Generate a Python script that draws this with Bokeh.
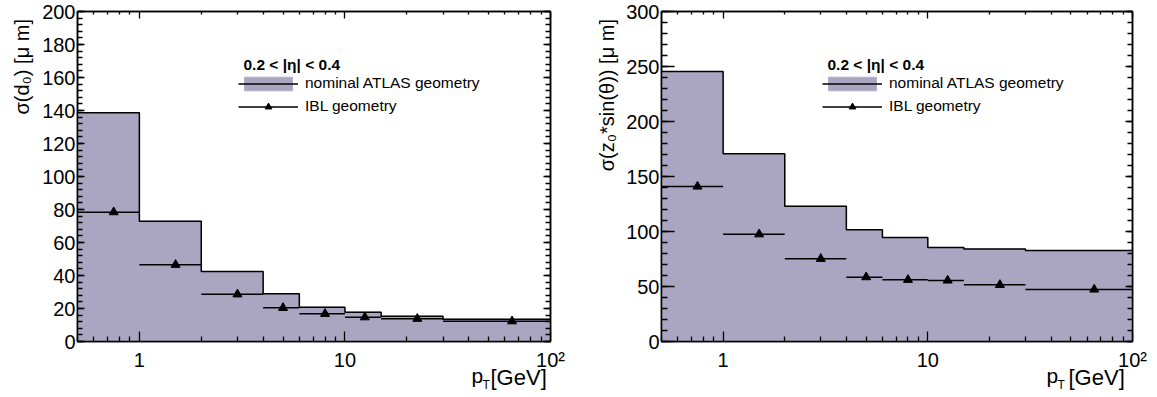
import math
from bokeh.plotting import figure
from bokeh.models import (LogAxis, LinearAxis, FixedTicker, SingleIntervalTicker,
                          Label, Legend, LegendItem, Title)
from bokeh.layouts import row
from bokeh.embed import file_html
from bokeh.resources import INLINE

# ---- data -------------------------------------------------------------
pt_edges = [0.5, 1, 2, 4, 6, 10, 15, 30, 100]
pt_centers = [0.75, 1.5, 3, 5, 8, 12.5, 22.5, 65]
d0_nominal = [138.6, 72.9, 42.4, 28.9, 20.8, 17.8, 15.3, 13.5]
d0_ibl = [78.4, 46.5, 28.6, 20.4, 16.8, 14.7, 13.8, 12.3]
z0_nominal = [245.5, 170.6, 123.0, 101.5, 94.5, 85.5, 84.0, 82.7]
z0_ibl = [140.9, 97.5, 75.2, 58.5, 56.1, 55.5, 51.5, 47.3]
x_major_ticks = [1, 10, 100]
x_minor_ticks = [0.5, 0.6, 0.7, 0.8, 0.9, 2, 3, 4, 5, 6, 7, 8, 9,
                 20, 30, 40, 50, 60, 70, 80, 90]
x_tick_labels = {1: "1", 10: "10", 100: "10²"}
legend_title = "0.2 < |η| < 0.4"
label_nominal = "nominal ATLAS geometry"
label_ibl = "IBL geometry"

FILL = "#aaa6c2"
FONT = "Liberation Sans"


def style_axis(ax, major, minor, show_labels):
    ax.axis_line_color = "black"
    ax.axis_line_width = 1.5
    ax.major_tick_line_color = "black"
    ax.minor_tick_line_color = "black"
    ax.major_tick_line_width = 1.3
    ax.minor_tick_line_width = 1.3
    ax.major_tick_in = major
    ax.major_tick_out = 0
    ax.minor_tick_in = minor
    ax.minor_tick_out = 0
    ax.major_label_text_font = FONT
    ax.major_label_text_color = "black"
    if show_labels:
        ax.major_label_text_font_size = "20px"
    else:
        ax.major_label_text_font_size = "1px"
        ax.major_label_text_alpha = 0
        ax.major_label_standoff = 0


def make_panel(nominal, ibl, ymax, yint, ylabel, bl, br, fw,
               ymaj, ymin, p_left, gev_left, ytitle_standoff):
    p = figure(x_axis_type="log", x_range=(0.5, 100), y_range=(0, ymax),
               frame_width=fw, frame_height=330,
               min_border_left=bl, min_border_right=br,
               min_border_top=11, min_border_bottom=56,
               output_backend="svg", toolbar_location=None,
               background_fill_color="white", border_fill_color="white")
    p.xgrid.visible = False
    p.ygrid.visible = False
    p.outline_line_color = "black"
    p.outline_line_width = 1.5

    xt = FixedTicker(ticks=x_major_ticks, minor_ticks=x_minor_ticks)
    yt = SingleIntervalTicker(interval=yint, num_minor_ticks=5)

    bx = p.xaxis[0]
    bx.ticker = xt
    bx.major_label_overrides = x_tick_labels
    bx.major_label_standoff = 7
    style_axis(bx, 10, 5, True)

    ly = p.yaxis[0]
    ly.ticker = yt
    ly.major_label_standoff = 2
    style_axis(ly, ymaj, ymin, True)

    tx = LogAxis(ticker=xt)
    style_axis(tx, 7, 3, False)
    p.add_layout(tx, "above")
    ry = LinearAxis(ticker=yt)
    style_axis(ry, 7, 5, False)
    p.add_layout(ry, "right")

    q = p.quad(left=pt_edges[:-1], right=pt_edges[1:], bottom=0, top=nominal,
               fill_color=FILL, line_color=FILL, line_width=0.8)
    st = p.step(x=pt_edges, y=nominal + [nominal[-1]], mode="after",
                line_color="black", line_width=1.5)
    sg = p.segment(x0=pt_edges[:-1], x1=pt_edges[1:], y0=ibl, y1=ibl,
                   line_color="black", line_width=1.5)
    tr = p.scatter(x=pt_centers, y=ibl, marker="triangle", size=9,
                   fill_color="black", line_color="black")

    leg = Legend(items=[LegendItem(label=label_nominal, renderers=[q, st]),
                        LegendItem(label=label_ibl, renderers=[sg, tr])],
                 location=(161, 226), orientation="vertical",
                 glyph_width=60, glyph_height=17, label_height=17,
                 label_standoff=7, spacing=5, padding=0, margin=0,
                 border_line_color=None, background_fill_alpha=0,
                 label_text_font=FONT, label_text_font_size="15.5px",
                 label_text_color="black")
    p.add_layout(leg, "center")

    p.add_layout(Label(x=166, y=277, x_units="screen", y_units="screen",
                       text=legend_title, text_font=FONT,
                       text_font_size="15.5px", text_font_style="bold",
                       text_baseline="middle", text_color="black"))

    # y-axis title, aligned to the top of the axis
    p.add_layout(Title(text=ylabel, align="right", offset=2,
                       standoff=ytitle_standoff,
                       text_font=FONT, text_font_size="20px",
                       text_font_style="normal", text_color="black"), "left")

    # x-axis title: "p" + subscript "T" + "[GeV]"
    p.add_layout(Label(x=gev_left, y=21, x_units="screen", y_units="screen",
                       text="[GeV]", text_font=FONT, text_font_size="22px",
                       text_baseline="alphabetic", text_color="black"), "below")
    p.add_layout(Label(x=p_left, y=-34, x_units="screen", y_units="screen",
                       text="p", text_font=FONT, text_font_size="21px",
                       text_baseline="alphabetic", text_color="black"), "right")
    p.add_layout(Label(x=p_left - 1, y=-43, x_units="screen", y_units="screen",
                       text="T", text_font=FONT, text_font_size="12px",
                       text_baseline="alphabetic", text_color="black"), "right")
    return p


p1 = make_panel(d0_nominal, d0_ibl, 200, 20, "σ(d₀)  [μ m]", 77, 28, 473,
                7, 5, -79, 413, 14)
p2 = make_panel(z0_nominal, z0_ibl, 300, 50, "σ(z₀*sin(θ))  [μ m]", 83, 25, 471,
                13, 6, -86, 407, 11)

layout = row(p1, p2)
open("out.html", "w").write(file_html(layout, INLINE))
